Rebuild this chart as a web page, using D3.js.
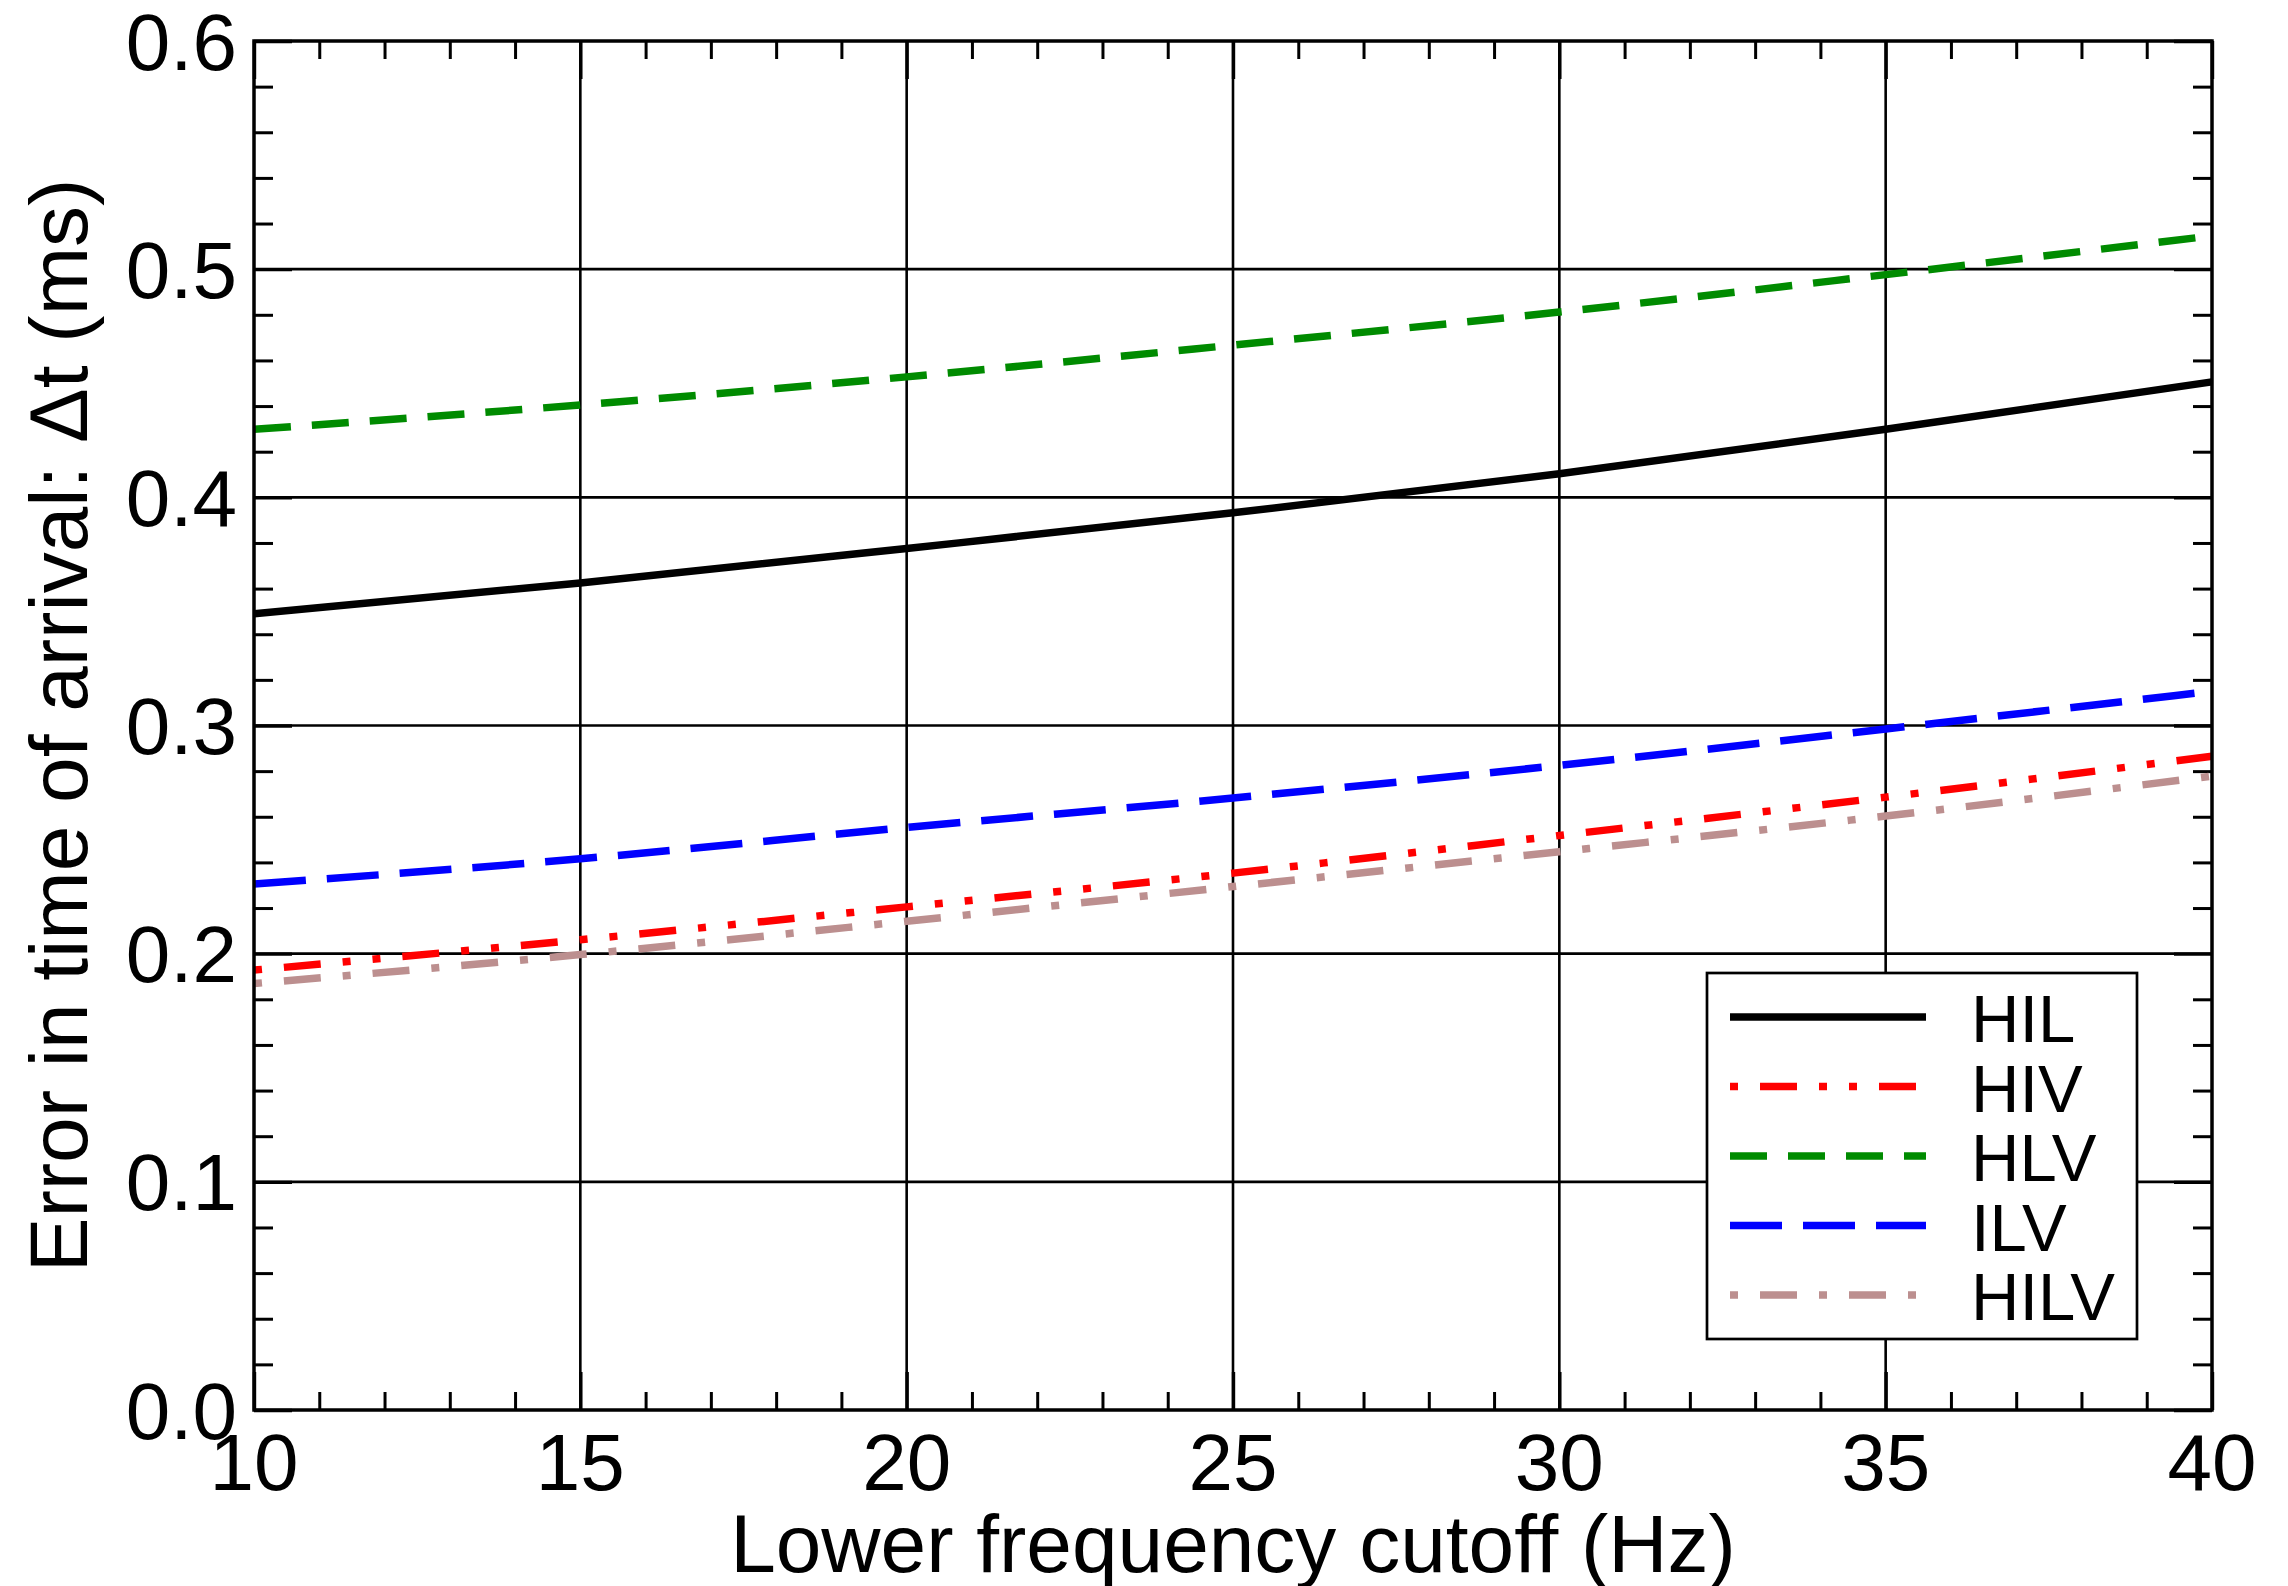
<!DOCTYPE html>
<html>
<head>
<meta charset="utf-8">
<script src="https://cdn.jsdelivr.net/npm/d3@7"></script>
<style>
  html, body { margin: 0; padding: 0; background: #fff; }
  svg { display: block; }
  text { font-family: "Liberation Sans", Arial, Helvetica, sans-serif; fill: #000; }
</style>
</head>
<body>
<svg id="chart" width="2288" height="1586"></svg>
<script>
// Lower frequency cutoff (Hz)
const cutoffs = [10, 15, 20, 25, 30, 35, 40];

// Timing error (ms) per detector network
const seriesNames = ["HIL", "HIV", "HLV", "ILV", "HILV"];
const hil  = [0.3490, 0.3625, 0.3776, 0.3932, 0.4103, 0.4298, 0.4506];
const hiv  = [0.1928, 0.2061, 0.2205, 0.2353, 0.2518, 0.2686, 0.2865];
const hlv  = [0.4298, 0.4405, 0.4528, 0.4667, 0.4812, 0.4976, 0.5146];
const ilv  = [0.2305, 0.2416, 0.2553, 0.2682, 0.2825, 0.2985, 0.3150];
const hilv = [0.1869, 0.1996, 0.2142, 0.2294, 0.2447, 0.2603, 0.2778];

const xTicks = [10, 15, 20, 25, 30, 35, 40];
const yTicks = [0.0, 0.1, 0.2, 0.3, 0.4, 0.5, 0.6];

const xLabel = "Lower frequency cutoff (Hz)";
const yLabel = "Error in time of arrival: \u0394t (ms)";

// Line styles
const styles = {
  HIL:  { color: "#000000", dash: null,                    offset: 0 },
  HIV:  { color: "#ff0000", dash: "37,22,8,22,8,22",       offset: 89 },
  HLV:  { color: "#008b00", dash: "37,21",                 offset: 0 },
  ILV:  { color: "#0000ff", dash: "52,21",                 offset: 0 },
  HILV: { color: "#bc8f8f", dash: "37,22,8,22",            offset: 59 }
};
const seriesValues = { HIL: hil, HIV: hiv, HLV: hlv, ILV: ilv, HILV: hilv };

const svg = d3.select("#chart");
const L = 254, R = 2212, T = 41, B = 1410;

const x = d3.scaleLinear().domain([10, 40]).range([L, R]);
const y = d3.scaleLinear().domain([0, 0.6]).range([B, T]);

const g = svg.append("g");

// Grid lines at major ticks
g.append("g").selectAll("line.vg")
  .data(xTicks.slice(1, -1)).enter().append("line")
  .attr("x1", d => x(d)).attr("x2", d => x(d))
  .attr("y1", T).attr("y2", B)
  .attr("stroke", "#000").attr("stroke-width", 2.6);
g.append("g").selectAll("line.hg")
  .data(yTicks.slice(1, -1)).enter().append("line")
  .attr("x1", L).attr("x2", R)
  .attr("y1", d => y(d)).attr("y2", d => y(d))
  .attr("stroke", "#000").attr("stroke-width", 2.6);

// Inward ticks on all four sides via d3 axes
const minorX = d3.range(10, 40.001, 1).filter(v => v % 5 !== 0);
const minorY = d3.range(0, 31).map(i => i * 0.02).filter((v, i) => i % 5 !== 0);

function styleAxis(sel, w) {
  sel.select(".domain").remove();
  sel.selectAll(".tick line").attr("stroke", "#000").attr("stroke-width", w);
  sel.selectAll(".tick text").remove();
}

// bottom
g.append("g").attr("transform", `translate(0,${B})`)
  .call(d3.axisTop(x).tickValues(minorX).tickSize(18)).call(s => styleAxis(s, 3));
g.append("g").attr("transform", `translate(0,${B})`)
  .call(d3.axisTop(x).tickValues(xTicks).tickSize(38)).call(s => styleAxis(s, 3.4));
// top
g.append("g").attr("transform", `translate(0,${T})`)
  .call(d3.axisBottom(x).tickValues(minorX).tickSize(18)).call(s => styleAxis(s, 3));
g.append("g").attr("transform", `translate(0,${T})`)
  .call(d3.axisBottom(x).tickValues(xTicks).tickSize(38)).call(s => styleAxis(s, 3.4));
// left
g.append("g").attr("transform", `translate(${L},0)`)
  .call(d3.axisRight(y).tickValues(minorY).tickSize(19)).call(s => styleAxis(s, 3));
g.append("g").attr("transform", `translate(${L},0)`)
  .call(d3.axisRight(y).tickValues(yTicks).tickSize(38)).call(s => styleAxis(s, 3.4));
// right
g.append("g").attr("transform", `translate(${R},0)`)
  .call(d3.axisLeft(y).tickValues(minorY).tickSize(19)).call(s => styleAxis(s, 3));
g.append("g").attr("transform", `translate(${R},0)`)
  .call(d3.axisLeft(y).tickValues(yTicks).tickSize(38)).call(s => styleAxis(s, 3.4));

// Data curves
const line = d3.line()
  .x((d, i) => x(cutoffs[i]))
  .y(d => y(d))
  .curve(d3.curveMonotoneX);

const curves = svg.append("g");
seriesNames.forEach(name => {
  const st = styles[name];
  const p = curves.append("path")
    .datum(seriesValues[name])
    .attr("d", line)
    .attr("fill", "none")
    .attr("stroke", st.color)
    .attr("stroke-width", 7.5)
    .attr("stroke-linecap", "butt")
    .attr("stroke-linejoin", "round");
  if (st.dash) p.attr("stroke-dasharray", st.dash).attr("stroke-dashoffset", st.offset);
});

// Frame
svg.append("rect")
  .attr("x", L).attr("y", T).attr("width", R - L).attr("height", B - T)
  .attr("fill", "none").attr("stroke", "#000").attr("stroke-width", 3.5);

// Tick labels
svg.append("g").selectAll("text")
  .data(yTicks).enter().append("text")
  .attr("x", 237).attr("y", d => y(d) + 28.6)
  .attr("text-anchor", "end")
  .attr("font-size", 80)
  .text(d => d.toFixed(1));

svg.append("g").selectAll("text")
  .data(xTicks).enter().append("text")
  .attr("x", d => x(d)).attr("y", B + 80)
  .attr("text-anchor", "middle")
  .attr("font-size", 80)
  .text(d => d);

// Axis titles
svg.append("text")
  .attr("x", (L + R) / 2).attr("y", 1572)
  .attr("text-anchor", "middle")
  .attr("font-size", 82)
  .text(xLabel);

svg.append("text")
  .attr("transform", `translate(87,${(T + B) / 2}) rotate(-90)`)
  .attr("text-anchor", "middle")
  .attr("font-size", 82)
  .text(yLabel);

// Legend
const lg = svg.append("g");
lg.append("rect")
  .attr("x", 1707).attr("y", 973).attr("width", 430).attr("height", 366)
  .attr("fill", "#fff").attr("stroke", "#000").attr("stroke-width", 2.7);

seriesNames.forEach((name, i) => {
  const st = styles[name];
  const cy = 1017 + i * 69.5;
  const l = lg.append("line")
    .attr("x1", 1730).attr("x2", 1926)
    .attr("y1", cy).attr("y2", cy)
    .attr("stroke", st.color).attr("stroke-width", 7.5);
  if (st.dash) l.attr("stroke-dasharray", st.dash).attr("stroke-dashoffset", st.offset);
  lg.append("text")
    .attr("x", 1971).attr("y", cy + 25)
    .attr("font-size", 67)
    .text(name);
});
</script>
</body>
</html>
